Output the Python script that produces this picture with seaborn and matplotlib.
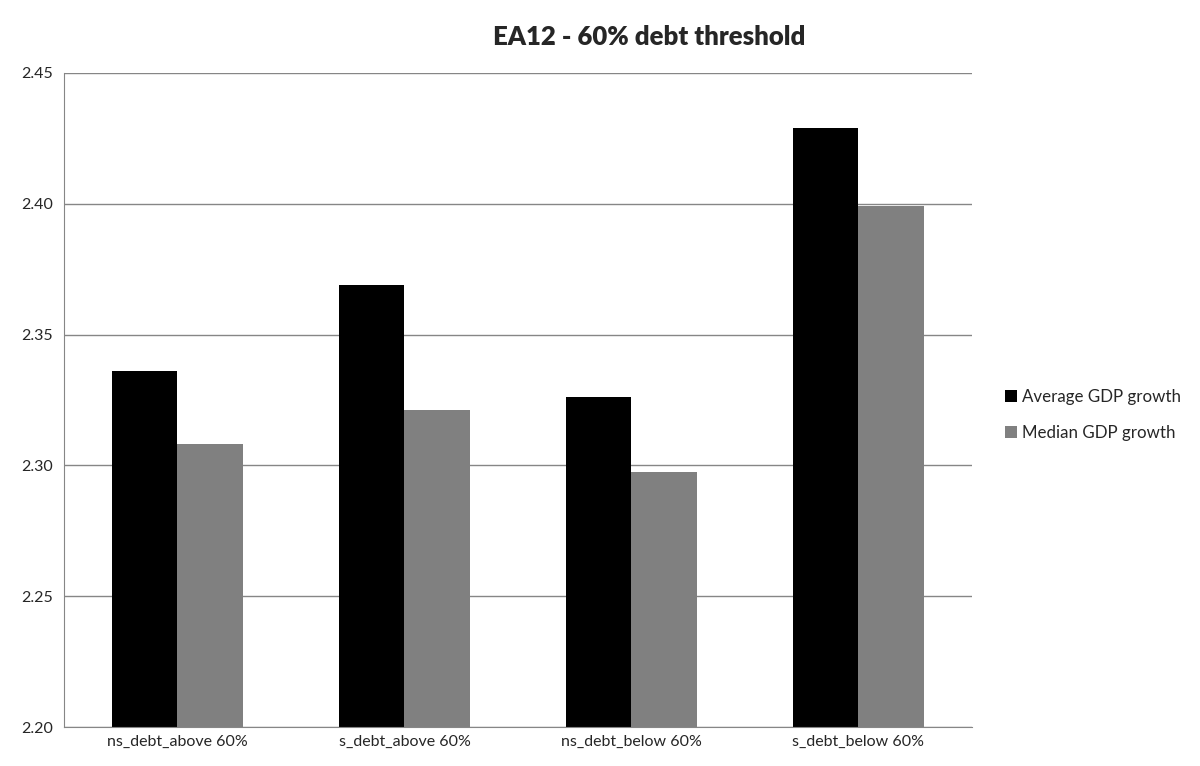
import pandas as pd
import matplotlib.pyplot as plt
import seaborn as sns

categories = ["ns_debt_above 60%", "s_debt_above 60%", "ns_debt_below 60%", "s_debt_below 60%"]
average_growth = [2.336, 2.369, 2.326, 2.429]
median_growth = [2.308, 2.321, 2.2975, 2.399]
series_names = ["Average GDP growth", "Median GDP growth"]
colors = ["#000000", "#808080"]

df = pd.DataFrame({
    "category": categories * 2,
    "value": average_growth + median_growth,
    "series": [series_names[0]] * 4 + [series_names[1]] * 4,
})

sns.set_style("white")
plt.rcParams["font.family"] = ["Lato", "DejaVu Sans"]

fig = plt.figure(figsize=(12, 7.66), dpi=100)
ax = fig.add_axes([0.0533, 0.0509, 0.7567, 0.8538])

sns.barplot(data=df, x="category", y="value", hue="series", palette=colors,
            width=0.573, saturation=1, linewidth=0, ax=ax, legend=True)

ax.set_ylim(2.20, 2.45)
ax.set_yticks([2.20, 2.25, 2.30, 2.35, 2.40, 2.45])
ax.set_yticklabels([f"{v:.2f}" for v in ax.get_yticks()], fontsize=11.5)
ax.tick_params(axis="x", labelsize=11.5, length=0, pad=6)
ax.tick_params(axis="y", length=0, pad=8)
ax.set_xlabel("")
ax.set_ylabel("")
ax.yaxis.grid(True, color="#868686", linewidth=1)
ax.set_axisbelow(True)
for side in ["top", "right"]:
    ax.spines[side].set_visible(False)
ax.spines["left"].set_color("#868686")
ax.spines["bottom"].set_color("#868686")

ax.set_title("EA12 - 60% debt threshold", fontsize=18.5, fontweight="heavy", pad=20, x=0.645)

ax.legend(loc="center left", bbox_to_anchor=(1.02, 0.477), frameon=False, fontsize=12.2,
          handlelength=0.7, handleheight=0.7, handletextpad=0.3, labelspacing=1.15)

fig.savefig("out.png", dpi=100)
